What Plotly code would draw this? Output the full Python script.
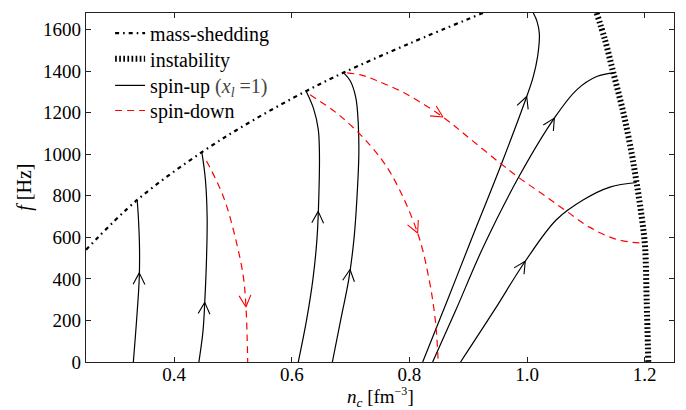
import numpy as np
import plotly.graph_objects as go

# ---------------- data ----------------
# mass-shedding limit
ms_x = [0.25, 0.337, 0.447, 0.535, 0.625, 0.688, 0.80, 0.925]
ms_y = [540, 780, 1010, 1165, 1305, 1393, 1533, 1680]

# instability limit
inst_x = [1.1185, 1.1327, 1.147, 1.164, 1.178, 1.1865, 1.195, 1.2007, 1.2035, 1.2063]
inst_y = [1680, 1550, 1390, 1198, 1005, 861, 700, 557, 300, 0]

# spin-up tracks (x_l = 1)
up1_x = [0.3305, 0.336, 0.3405, 0.341, 0.339, 0.337]
up1_y = [0, 200, 400, 550, 700, 780]
up2_x = [0.442, 0.449, 0.452, 0.455, 0.456, 0.453, 0.447]
up2_y = [0, 150, 290, 500, 700, 880, 1010]
up3_x = [0.611, 0.625, 0.636, 0.643, 0.646, 0.647, 0.645, 0.637, 0.625]
up3_y = [0, 200, 400, 600, 800, 1000, 1120, 1220, 1300]
up4_x = [0.669, 0.683, 0.697, 0.706, 0.711, 0.714, 0.713, 0.709, 0.700, 0.688]
up4_y = [0, 200, 400, 600, 800, 1000, 1150, 1270, 1350, 1393]
up5_x = [0.8226, 0.865, 0.904, 0.957, 0.9995, 1.0107, 1.018, 1.021, 1.017, 1.0107]
up5_y = [0, 300, 580, 957, 1278, 1374, 1470, 1580, 1640, 1680]
up6_x = [0.8395, 0.879, 0.925, 0.988, 1.0465, 1.0845, 1.1185, 1.1497]
up6_y = [0, 250, 550, 901, 1174, 1310, 1374, 1393]
up7_x = [0.887, 0.945, 0.997, 1.05, 1.096, 1.141, 1.1865]
up7_y = [0, 252, 485, 685, 781, 842, 864]

# spin-down tracks
dn1_x = [0.455, 0.4835, 0.5034, 0.5175, 0.522, 0.524, 0.525]
dn1_y = [968, 797, 605, 412, 268, 124, 0]
dn2_x = [0.631, 0.68, 0.733, 0.77, 0.814, 0.834, 0.8445, 0.849]
dn2_y = [1286, 1190, 1044, 900, 621, 390, 190, 0]
dn3_x = [0.694, 0.72, 0.744, 0.79, 0.8566, 0.903, 0.954, 0.988, 1.028, 1.0675, 1.107, 1.147, 1.18, 1.2007]
dn3_y = [1392, 1380, 1355, 1297, 1180, 1075, 958, 884, 805, 725, 648, 595, 576, 573]

# arrow locations along the tracks (value of f, or of n_c for the flat track)
up_arrow_f = [429, 287, 725, 445, 1278, 1174, 485]
dn1_arrow_f = 265
dn2_arrow_f = 621
dn3_arrow_n = 0.857

x_ticks = [0.4, 0.6, 0.8, 1.0, 1.2]
y_ticks = [0, 200, 400, 600, 800, 1000, 1200, 1400, 1600]

# ---------------- layout constants ----------------
W, H = 686, 410
ML, MR, MT, MB = 86, 12, 13, 48
XR = [0.25, 1.25]
YR = [0, 1680]
FONT = "Liberation Serif"
RED = "#ff0000"

SX = (W - ML - MR) / (XR[1] - XR[0])   # px per unit of n_c
SY = (H - MT - MB) / (YR[1] - YR[0])   # px per Hz

fig = go.Figure()

fig.add_trace(go.Scatter(x=ms_x, y=ms_y, mode="lines", name="mass-shedding", legend="legend",
                         line=dict(color="black", width=2.2, dash="4px,4px,1.6px,4px",
                                   shape="spline", smoothing=1.0)))
fig.add_trace(go.Scatter(x=inst_x, y=inst_y, mode="lines", name="instability", legend="legend2",
                         line=dict(color="black", width=6, dash="1.7px,2.4px",
                                   shape="spline", smoothing=1.0)))

ups = [(up1_x, up1_y), (up2_x, up2_y), (up3_x, up3_y), (up4_x, up4_y),
       (up5_x, up5_y), (up6_x, up6_y), (up7_x, up7_y)]
for i, (xs, ys) in enumerate(ups):
    fig.add_trace(go.Scatter(x=xs, y=ys, mode="lines", legend="legend3",
                             name="spin-up <span style='color:#444'>(<i>x</i><sub><i>l</i></sub> =1)</span>",
                             legendgroup="up", showlegend=(i == 0),
                             line=dict(color="black", width=1.2, shape="spline", smoothing=1.0)))

dns = [(dn1_x, dn1_y), (dn2_x, dn2_y), (dn3_x, dn3_y)]
for i, (xs, ys) in enumerate(dns):
    fig.add_trace(go.Scatter(x=xs, y=ys, mode="lines", name="spin-down", legend="legend4",
                             legendgroup="dn", showlegend=(i == 0),
                             line=dict(color=RED, width=1.2, dash="7px,5px",
                                       shape="spline", smoothing=1.0)))


# ---------------- open arrowheads, placed on the tracks ----------------
def chevron(tip, prev, arm_px=13.0, half_angle_deg=27.0):
    """Two arms of an open '->' head at `tip`, oriented along prev->tip."""
    dx = (tip[0] - prev[0]) * SX
    dy = (tip[1] - prev[1]) * SY
    n = np.hypot(dx, dy)
    ux, uy = dx / n, dy / n
    px, py = [], []
    for s in (1, -1):
        a = np.radians(half_angle_deg) * s
        # rotate the back-vector (-ux, -uy) by +/- the half angle
        bx = (-ux) * np.cos(a) - (-uy) * np.sin(a)
        by = (-ux) * np.sin(a) + (-uy) * np.cos(a)
        px.append(tip[0] + bx * arm_px / SX)
        py.append(tip[1] + by * arm_px / SY)
    return [px[0], tip[0], px[1], None], [py[0], tip[1], py[1], None]


blk_x, blk_y = [], []
for (xs, ys), f in zip(ups, up_arrow_f):
    tip = (np.interp(f, ys, xs), f)
    prev = (np.interp(f - 40, ys, xs), f - 40)
    cx, cy = chevron(tip, prev)
    blk_x += cx
    blk_y += cy

red_x, red_y = [], []
for (xs, ys), f in [((dn1_x, dn1_y), dn1_arrow_f), ((dn2_x, dn2_y), dn2_arrow_f)]:
    xr, yr = xs[::-1], ys[::-1]
    tip = (np.interp(f, yr, xr), f)
    prev = (np.interp(f + 40, yr, xr), f + 40)
    cx, cy = chevron(tip, prev)
    red_x += cx
    red_y += cy
tip = (dn3_arrow_n, np.interp(dn3_arrow_n, dn3_x, dn3_y))
prev = (dn3_arrow_n - 0.014, np.interp(dn3_arrow_n - 0.014, dn3_x, dn3_y))
cx, cy = chevron(tip, prev)
red_x += cx
red_y += cy

fig.add_trace(go.Scatter(x=blk_x, y=blk_y, mode="lines", showlegend=False, hoverinfo="skip",
                         line=dict(color="black", width=1.1)))
fig.add_trace(go.Scatter(x=red_x, y=red_y, mode="lines", showlegend=False, hoverinfo="skip",
                         line=dict(color=RED, width=1.1)))

# axis titles
fig.add_annotation(text="<i>n</i><sub><i>c</i></sub> [fm<sup><span style='font-size:12px'>−3</span></sup>]",
                   xref="paper", yref="paper",
                   x=0.5, y=-0.101, xanchor="center", yanchor="middle", showarrow=False,
                   font=dict(family=FONT, size=19, color="black"))
fig.add_annotation(text="<i>f</i> [Hz]", xref="paper", yref="paper",
                   x=-0.105, y=0.5, xanchor="center", yanchor="middle", showarrow=False,
                   textangle=-90, font=dict(family=FONT, size=20, color="black"))

axis_common = dict(ticks="inside", ticklen=5, tickwidth=1, tickcolor="#222",
                   showline=True, linecolor="#222", linewidth=1.2, mirror="ticks",
                   showgrid=False, zeroline=False, automargin=False,
                   tickfont=dict(family=FONT, size=19, color="black"))

leg_common = dict(x=0.041, xanchor="left", yanchor="middle", bgcolor="rgba(0,0,0,0)",
                  borderwidth=0, font=dict(family=FONT, size=20, color="black"), itemwidth=30)

fig.update_layout(
    width=W, height=H,
    margin=dict(l=ML, r=MR, t=MT, b=MB, autoexpand=False),
    plot_bgcolor="white", paper_bgcolor="white",
    font=dict(family=FONT, size=19, color="black"),
    showlegend=True,
    xaxis=dict(range=XR, tickvals=x_ticks, ticktext=[f"{v:.1f}" for v in x_ticks],
               ticklabelstandoff=-5, **axis_common),
    yaxis=dict(range=YR, tickvals=y_ticks, ticktext=[str(v) for v in y_ticks],
               **axis_common),
    legend=dict(y=0.9426, **leg_common),
    legend2=dict(y=0.8686, **leg_common),
    legend3=dict(y=0.7926, **leg_common),
    legend4=dict(y=0.7206, **leg_common),
)

fig.write_html("out.html", config={"displayModeBar": False},
               post_script="document.body.style.margin='0px';")
